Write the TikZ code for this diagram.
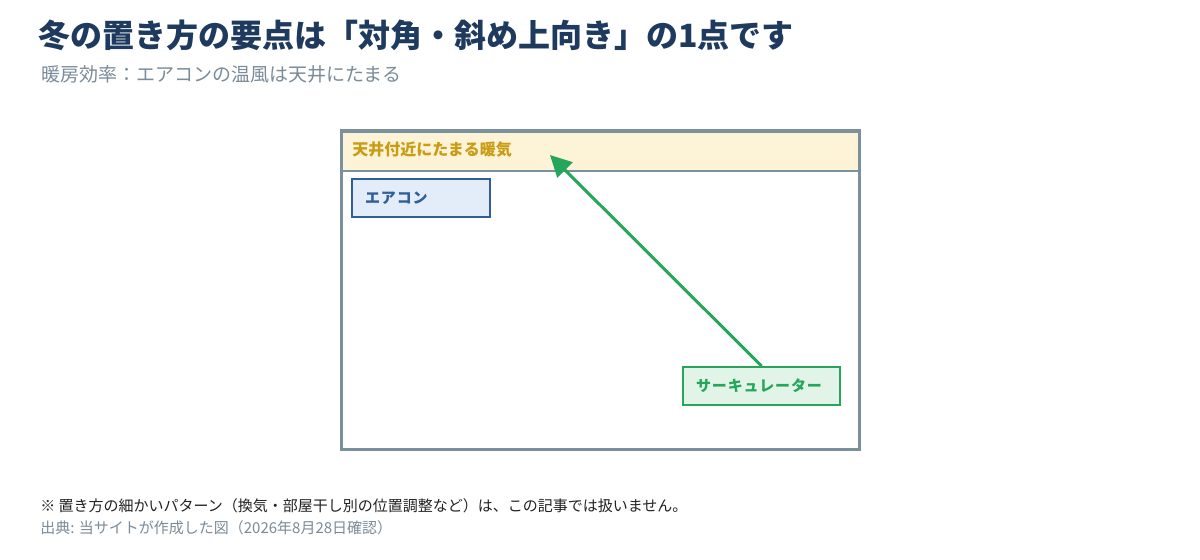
\documentclass[tikz,border=0pt]{standalone}
\usepackage{fontspec}
\setmainfont{Noto Sans CJK JP}
\usetikzlibrary{arrows.meta,positioning}

\definecolor{titlenavy}{HTML}{1F3A5F}
\definecolor{subgray}{HTML}{7A8B99}
\definecolor{framegray}{HTML}{7A909B}
\definecolor{warmcream}{HTML}{FDF3D7}
\definecolor{warmgold}{HTML}{C99C14}
\definecolor{acfill}{HTML}{E3EDF9}
\definecolor{acblue}{HTML}{2E5F98}
\definecolor{circfill}{HTML}{E2F3E8}
\definecolor{circgreen}{HTML}{26A65B}
\definecolor{notetext}{HTML}{222222}

\begin{document}
\begin{tikzpicture}[x=0.75pt,y=-0.75pt]
    \tikzstyle{every node}=[inner sep=0pt]
    \tikzstyle{label box}=[rectangle, anchor=north west, line width=1.5pt,
        minimum height=28.5pt, inner xsep=9.75pt, align=left,
        font=\bfseries\fontsize{11.25}{13}\selectfont\addfontfeature{LetterSpace=6}]
    \tikzstyle{plain text}=[anchor=base west]

    \useasboundingbox[fill=white] (0,0) rectangle (1200,560);

    % heading
    \node[plain text, text=titlenavy, font=\bfseries\fontsize{24}{28}\selectfont] (title) at (38,48)
        {冬の置き方の要点は「対角・斜め上向き」の1点です};
    \node[plain text, text=subgray, font=\fontsize{14.25}{17}\selectfont] (subtitle) at (41,82)
        {暖房効率：エアコンの温風は天井にたまる};

    % room
    \node[rectangle, anchor=north west, fill=white, minimum width=388.5pt, minimum height=238.5pt] (room) at (341,131) {};
    \node[rectangle, anchor=north west, fill=warmcream, minimum width=388.5pt, minimum height=29.25pt] (ceiling) at (341,131) {};
    \draw[framegray, line width=1.5pt] (ceiling.south west) -- (ceiling.south east);
    \draw[framegray, line width=2.25pt] (room.north west) rectangle (room.south east);
    \node[plain text, text=warmgold, font=\bfseries\fontsize{12}{14}\selectfont] (warm) at (352,155)
        {天井付近にたまる暖気};

    \node[label box, draw=acblue, fill=acfill, text=acblue, text width=84pt] (ac) at (351,178) {エアコン};
    \node[label box, draw=circgreen, fill=circfill, text=circgreen, text width=98.25pt] (circ) at (682,366) {サーキュレーター};

    \coordinate (warmspot) at (550,155);
    \draw[circgreen, line width=2.25pt, -{Triangle[length=16pt, width=16pt]}] (circ.north) -- (warmspot);

    % notes
    \node[plain text, text=notetext, font=\fontsize{11.25}{13}\selectfont] (note) at (40,511)
        {※ 置き方の細かいパターン（換気・部屋干し別の位置調整など）は、この記事では扱いません。};
    \node[plain text, text=subgray, font=\fontsize{11.25}{13}\selectfont] (source) at (40,533)
        {出典: 当サイトが作成した図（2026年8月28日確認）};
\end{tikzpicture}
\end{document}
